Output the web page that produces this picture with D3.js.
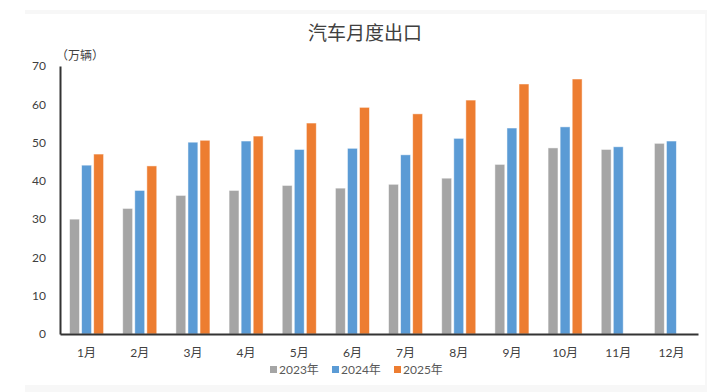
<!DOCTYPE html>
<html>
<head>
<meta charset="utf-8">
<script src="https://cdn.jsdelivr.net/npm/d3@7"></script>
<style>
  body { margin: 0; background: #fff; }
  text { font-family: Lato, "Noto Sans CJK SC", sans-serif; }
  .cjk { font-family: "Noto Sans CJK SC", sans-serif; }
</style>
</head>
<body>
<div id="chart"></div>
<script>
// Monthly car exports (10k units)
const months = ['1月', '2月', '3月', '4月', '5月', '6月', '7月', '8月', '9月', '10月', '11月', '12月'];
const seriesNames = ['2023年', '2024年', '2025年'];
const colors = ['#A5A5A5', '#5B9BD5', '#ED7D31'];
const y2023 = [30.0, 32.8, 36.2, 37.5, 38.8, 38.1, 39.1, 40.7, 44.3, 48.6, 48.2, 49.8];
const y2024 = [44.1, 37.5, 50.1, 50.4, 48.2, 48.5, 46.8, 51.1, 53.8, 54.1, 48.9, 50.4];
const y2025 = [47.0, 43.9, 50.6, 51.7, 55.1, 59.2, 57.5, 61.1, 65.3, 66.6, null, null];
const yTicks = [0, 10, 20, 30, 40, 50, 60, 70];

const seriesData = [y2023, y2024, y2025];

const W = 711, H = 392;
const margin = { top: 66, right: 13, bottom: 58, left: 60 };

const svg = d3.select('#chart')
    .append('svg')
    .attr('width', W)
    .attr('height', H);

// faint frame around chart area
svg.append('rect')
    .attr('x', 25).attr('y', 10)
    .attr('width', 682).attr('height', 382)
    .attr('fill', '#f7f7f7');
svg.append('rect')
    .attr('x', 25).attr('y', 14)
    .attr('width', 680).attr('height', 371)
    .attr('fill', '#ffffff');

const x0 = d3.scaleBand()
    .domain(months)
    .range([margin.left, W - margin.right])
    .paddingInner(0.36)
    .paddingOuter(0.18);

const x1 = d3.scaleBand()
    .domain(seriesNames)
    .range([0, x0.bandwidth()])
    .paddingInner(0.18);

const y = d3.scaleLinear()
    .domain([0, 70])
    .range([H - margin.bottom, margin.top]);

// Title
svg.append('text')
    .attr('class', 'cjk')
    .attr('x', 365)
    .attr('y', 40)
    .attr('text-anchor', 'middle')
    .attr('fill', '#404040')
    .attr('font-size', '19px')
    .text('汽车月度出口');

// unit label
svg.append('text')
    .attr('class', 'cjk')
    .attr('x', 56)
    .attr('y', 60)
    .attr('fill', '#404040')
    .attr('font-size', '12px')
    .text('（万辆）');

// Bars
seriesData.forEach((vals, si) => {
    svg.append('g')
        .selectAll('rect')
        .data(vals.map((v, i) => ({ m: months[i], v })).filter(d => d.v != null))
        .join('rect')
        .attr('x', d => x0(d.m) + x1(seriesNames[si]))
        .attr('y', d => y(d.v))
        .attr('width', x1.bandwidth())
        .attr('height', d => y(0) - y(d.v))
        .attr('fill', colors[si])
        .attr('stroke', '#ffffff')
        .attr('stroke-opacity', 0.6)
        .attr('stroke-width', 0.8);
});

// Y axis
const yAxis = svg.append('g')
    .attr('transform', `translate(${margin.left},0)`)
    .call(d3.axisLeft(y).tickValues(yTicks).tickSize(0).tickPadding(14));
yAxis.select('.domain').attr('stroke', '#333').attr('stroke-width', 2);
yAxis.selectAll('text')
    .attr('fill', '#404040')
    .attr('font-size', '12px')
    .attr('font-family', 'Lato, sans-serif');

// X axis
const xAxis = svg.append('g')
    .attr('transform', `translate(0,${y(0)})`)
    .call(d3.axisBottom(x0).tickSize(0).tickPadding(14).tickSizeOuter(0));
xAxis.select('.domain').attr('stroke', '#333').attr('stroke-width', 2);
xAxis.selectAll('text')
    .attr('fill', '#404040')
    .attr('font-size', '12px')
    .attr('font-family', 'Lato, "Noto Sans CJK SC", sans-serif');

// Legend
const legend = svg.append('g')
    .attr('transform', 'translate(270,370)');
seriesNames.forEach((name, i) => {
    const g = legend.append('g').attr('transform', `translate(${i * 62},0)`);
    g.append('rect')
        .attr('x', 0).attr('y', -4)
        .attr('width', 7).attr('height', 7)
        .attr('fill', colors[i]);
    g.append('text')
        .attr('x', 9)
        .attr('y', 4)
        .attr('fill', '#595959')
        .attr('font-size', '12px')
        .attr('font-family', 'Lato, "Noto Sans CJK SC", sans-serif')
        .text(name);
});
</script>
</body>
</html>
